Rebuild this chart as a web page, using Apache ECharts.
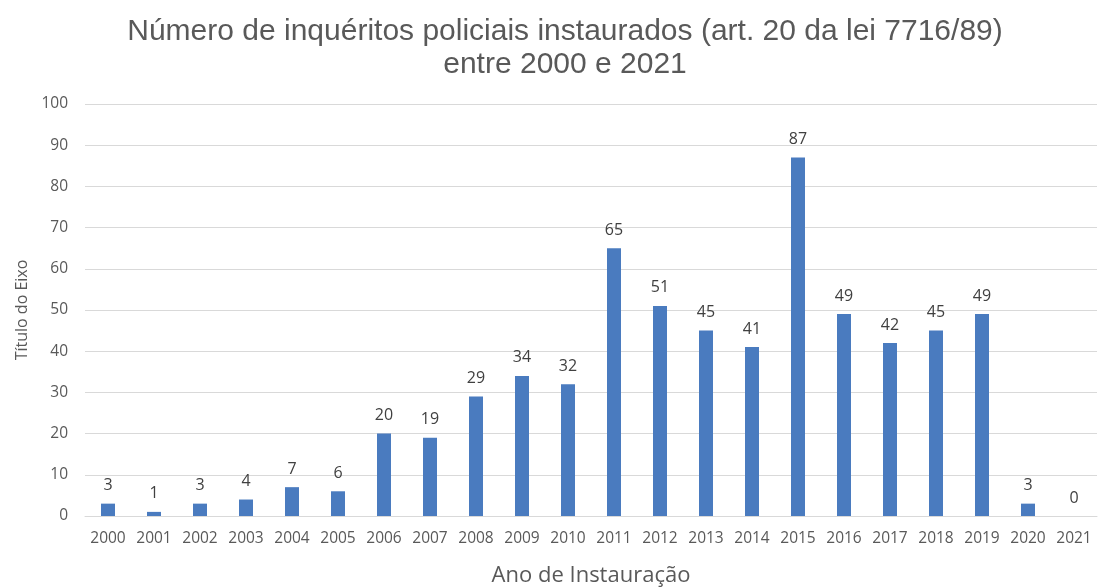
<!DOCTYPE html>
<html>
<head>
<meta charset="utf-8">
<script src="https://cdn.jsdelivr.net/npm/echarts@6/dist/echarts.min.js"></script>
<style>html,body{margin:0;padding:0;background:#fff;}#c{width:1098px;height:588px;}</style>
</head>
<body>
<div id="c"></div>
<script>
const categories = ['2000','2001','2002','2003','2004','2005','2006','2007','2008','2009','2010','2011','2012','2013','2014','2015','2016','2017','2018','2019','2020','2021'];
const values = [3,1,3,4,7,6,20,19,29,34,32,65,51,45,41,87,49,42,45,49,3,0];
const yTicks = [0,10,20,30,40,50,60,70,80,90,100];

const chart = echarts.init(document.getElementById('c'));
chart.setOption({
  animation: false,
  title: {
    text: 'Número de inquéritos policiais instaurados (art. 20 da lei 7716/89)\nentre 2000 e 2021',
    left: 560, top: 10, textAlign: 'center',
    textStyle: {fontFamily: 'Liberation Sans', fontSize: 30, fontWeight: 'normal', color: '#595959', lineHeight: 33}
  },
  grid: {left: 85, right: 1, top: 104, bottom: 72, containLabel: false, outerBoundsMode: 'none'},
  xAxis: {
    type: 'category', data: categories,
    name: 'Ano de Instauração', nameLocation: 'middle', nameGap: 49,
    nameTextStyle: {fontFamily: 'Open Sans', fontSize: 22, color: '#595959'},
    axisLine: {lineStyle: {color: '#d9d9d9'}},
    axisTick: {show: false},
    axisLabel: {interval: 0, hideOverlap: false, fontFamily: 'Open Sans', fontSize: 15.5, color: '#595959', margin: 15}
  },
  yAxis: {
    type: 'value', min: 0, max: 100, interval: 10,
    name: 'Título do Eixo', nameLocation: 'middle', nameGap: 55, nameRotate: 90,
    nameTextStyle: {fontFamily: 'Open Sans', fontSize: 16, color: '#595959'},
    axisLine: {show: false}, axisTick: {show: false},
    axisLabel: {fontFamily: 'Open Sans', fontSize: 15.5, color: '#595959', margin: 17,
      formatter: v => yTicks.includes(v) ? String(v) : ''},
    splitLine: {lineStyle: {color: '#d9d9d9'}}
  },
  series: [{
    type: 'bar', data: values, barWidth: 14,
    itemStyle: {color: '#4a7bbf'},
    label: {show: true, position: 'top', distance: 10, fontFamily: 'Open Sans', fontSize: 16, color: '#404040'}
  }]
});
</script>
</body>
</html>
